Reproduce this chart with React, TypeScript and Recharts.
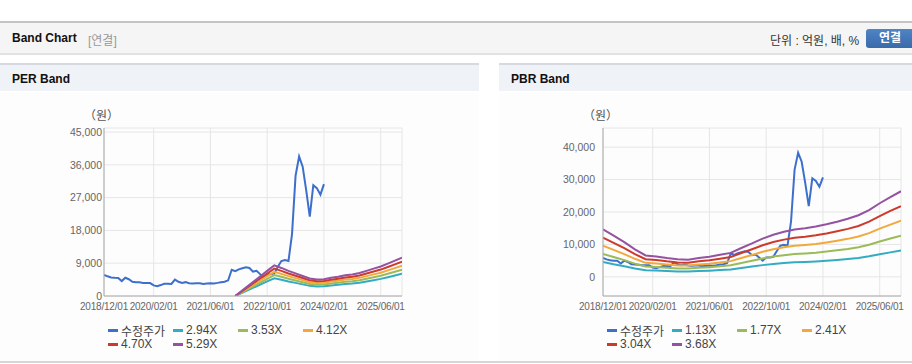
import React from "react";
import { LineChart, Line, XAxis, YAxis, CartesianGrid } from "recharts";

// x = months since 2018/12/01
const tickMonths = [0, 14, 30, 46, 62, 78];
const tickLabels = ["2018/12/01", "2020/02/01", "2021/06/01", "2022/10/01", "2024/02/01", "2025/06/01"];

// 수정주가, monthly from 2018/12
const priceVals = [
  5800, 5400, 5100, 5000, 4950, 4100, 5000, 4600, 3900, 3800,
  3750, 3600, 3600, 3550, 2900, 2700, 3000, 3350, 3350, 3300,
  4500, 3900, 3600, 3800, 3500, 3450, 3500, 3500, 3300, 3400,
  3500, 3450, 3600, 3800, 3900, 4300, 7200, 6800, 7300, 7600,
  7900, 7700, 6700, 6900, 6000, 5000, 6000, 6000, 6200, 8000,
  9600, 9900, 9600, 17000, 33000, 38300, 35500, 29000, 21800, 30400,
  29600, 27800, 30700,
];

// PER bands
const perMonths = [37, 40, 43, 46, 48, 50, 52, 54, 56, 58, 60, 62, 64, 66, 68, 70, 72, 74, 76, 78, 80, 82, 84];
const per294 = [0, 1330, 2670, 4000, 4870, 4470, 4000, 3600, 3190, 2780, 2610, 2670, 2900, 3070, 3310, 3420, 3650, 4000, 4350, 4700, 5160, 5630, 6090];
const per353 = [0, 1580, 3150, 4730, 5750, 5270, 4730, 4250, 3770, 3290, 3080, 3150, 3430, 3630, 3900, 4040, 4320, 4730, 5140, 5550, 6100, 6640, 7190];
const per412 = [0, 1820, 3630, 5450, 6640, 6080, 5450, 4900, 4350, 3790, 3560, 3630, 3950, 4190, 4500, 4660, 4980, 5450, 5930, 6400, 7030, 7660, 8300];
const per470 = [0, 2060, 4120, 6180, 7520, 6890, 6180, 5550, 4920, 4300, 4030, 4120, 4480, 4740, 5100, 5280, 5640, 6180, 6710, 7250, 7970, 8680, 9400];
const per529 = [0, 2300, 4600, 6900, 8400, 7700, 6900, 6200, 5500, 4800, 4500, 4600, 5000, 5300, 5700, 5900, 6300, 6900, 7500, 8100, 8900, 9700, 10500];
const perNames = ["2.94X", "3.53X", "4.12X", "4.70X", "5.29X"];
const perTicks = [0, 9000, 18000, 27000, 36000, 45000];

// PBR bands
const pbrMonths = [0, 3, 6, 9, 12, 15, 18, 21, 24, 27, 30, 33, 36, 39, 42, 45, 48, 51, 54, 57, 60, 63, 66, 69, 72, 75, 78, 81, 84];
const pbr113 = [4600, 3900, 3290, 2610, 2030, 1930, 1780, 1660, 1630, 1780, 1900, 2090, 2270, 2730, 3160, 3620, 3990, 4270, 4480, 4610, 4760, 4970, 5220, 5500, 5830, 6330, 6970, 7550, 8110];
const pbr177 = [7050, 6110, 5150, 4090, 3170, 3030, 2790, 2600, 2550, 2790, 2980, 3270, 3560, 4280, 4950, 5680, 6250, 6690, 7020, 7220, 7460, 7790, 8180, 8610, 9140, 9910, 10920, 11830, 12700];
const pbr241 = [9590, 8320, 7010, 5570, 4320, 4130, 3800, 3540, 3470, 3800, 4060, 4450, 4850, 5830, 6750, 7730, 8520, 9100, 9560, 9820, 10150, 10610, 11130, 11720, 12440, 13490, 14870, 16110, 17290];
const pbr304 = [12100, 10490, 8840, 7020, 5450, 5200, 4790, 4460, 4380, 4790, 5120, 5620, 6110, 7350, 8510, 9750, 10740, 11480, 12060, 12390, 12800, 13380, 14050, 14790, 15700, 17020, 18750, 20320, 21810];
const pbr368 = [14650, 12700, 10700, 8500, 6600, 6300, 5800, 5400, 5300, 5800, 6200, 6800, 7400, 8900, 10300, 11800, 13000, 13900, 14600, 15000, 15500, 16200, 17000, 17900, 19000, 20600, 22700, 24600, 26400];
const pbrNames = ["1.13X", "1.77X", "2.41X", "3.04X", "3.68X"];
const pbrTicks = [0, 10000, 20000, 30000, 40000];

const priceColor = "#3d6fcc";
const bandColors = ["#33abc3", "#9bbb59", "#f2a93b", "#cc3a2e", "#9452a0"];

const xTickFont = { fontSize: 10, letterSpacing: -0.2, fill: "#666", fontFamily: "'Liberation Sans', Arial, sans-serif" };
const yTickFont = { fontSize: 10.5, fill: "#666", fontFamily: "'Liberation Sans', Arial, sans-serif" };
const priceData = priceVals.map((v, i) => ({ m: i, v }));

type BandChartProps = {
  left: number;
  months: number[];
  bands: number[][];
  names: string[];
  domain: [number, number];
  ticks: number[];
  tickMargin: number;
};

function BandPlot({ left, months, bands, names, domain, ticks, tickMargin }: BandChartProps) {
  return (
    <>
      <div style={{ position: "absolute", left: left + 84, top: 106, fontSize: 12, color: "#555", fontFamily: "'Noto Sans CJK KR', sans-serif" }}>
        （원）
      </div>
      <div style={{ position: "absolute", left, top: 110 }}>
        <LineChart width={420} height={220} margin={{ top: 18, right: 18, bottom: 14, left: 0 }}>
          <CartesianGrid stroke="#e6e6e6" strokeWidth={1} />
          <XAxis
            type="number"
            dataKey="m"
            domain={[0, 84]}
            ticks={tickMonths}
            interval={0}
            tickFormatter={(m: number) => tickLabels[tickMonths.indexOf(m)] ?? ""}
            tick={xTickFont}
            tickLine={false}
            tickSize={5}
            axisLine={{ stroke: "#aaa" }}
            height={20}
            allowDataOverflow
          />
          <XAxis xAxisId="top" orientation="top" type="number" domain={[0, 84]} height={0} tick={false} tickLine={false} axisLine={{ stroke: "#bbb" }} />
          <YAxis
            type="number"
            domain={domain}
            ticks={ticks}
            interval={0}
            tickFormatter={(v: number) => v.toLocaleString("en-US")}
            tick={yTickFont}
            tickLine={false}
            tickSize={0}
            tickMargin={tickMargin}
            axisLine={{ stroke: "#aaa" }}
            width={104}
            allowDataOverflow
          />
          <YAxis yAxisId="right" orientation="right" type="number" domain={domain} width={0} tick={false} tickLine={false} axisLine={{ stroke: "#bbb" }} />
          <Line data={priceData} dataKey="v" stroke={priceColor} strokeWidth={2} dot={false} isAnimationActive={false} />
          {bands.map((vals, k) => (
            <Line
              key={names[k]}
              data={months.map((m, i) => ({ m, v: vals[i] }))}
              dataKey="v"
              stroke={bandColors[k]}
              strokeWidth={2}
              dot={false}
              isAnimationActive={false}
            />
          ))}
        </LineChart>
      </div>
      <Legend left={left + 108} names={names} />
    </>
  );
}

function Legend({ left, names }: { left: number; names: string[] }) {
  const items = [{ name: "수정주가", color: priceColor }, ...names.map((n, k) => ({ name: n, color: bandColors[k] }))];
  return (
    <>
      {items.map((it, i) => (
        <div
          key={it.name}
          style={{
            position: "absolute",
            left: left + (i % 4) * 65,
            top: 322 + Math.floor(i / 4) * 14,
            height: 16,
            display: "flex",
            alignItems: "center",
            fontSize: 12,
            color: "#444",
            fontFamily: "'Liberation Sans', Arial, 'Noto Sans CJK KR', sans-serif",
            whiteSpace: "nowrap",
          }}
        >
          <span style={{ display: "inline-block", width: 10, height: 3, background: it.color, marginRight: 3 }} />
          {it.name}
        </div>
      ))}
    </>
  );
}

function PanelTitle({ left, width, text }: { left: number; width: number; text: string }) {
  return (
    <div
      style={{
        position: "absolute",
        left,
        top: 63,
        width,
        height: 28,
        borderTop: "2px solid #d6dae0",
        background: "#eff2f6",
        fontFamily: "'Liberation Sans', Arial, sans-serif",
        fontWeight: "bold",
        fontSize: 12,
        color: "#111",
        lineHeight: "28px",
        paddingLeft: 12,
        boxSizing: "border-box",
      }}
    >
      {text}
    </div>
  );
}

export default function App() {
  const sans = "'Liberation Sans', Arial, 'Noto Sans CJK KR', sans-serif";
  return (
    <div style={{ position: "absolute", left: 0, top: 0, width: 912, height: 364, overflow: "hidden", background: "#fff" }}>
      <div
        style={{
          position: "absolute",
          left: 0,
          top: 21,
          width: 912,
          height: 30,
          borderTop: "2px solid #c4c4c4",
          borderBottom: "2px solid #e2e2e2",
          background: "#f5f5f5",
          fontFamily: sans,
        }}
      >
        <span style={{ position: "absolute", left: 12, top: 8, fontWeight: "bold", fontSize: 12, color: "#111" }}>Band Chart</span>
        <span style={{ position: "absolute", left: 88, top: 8, fontSize: 12, color: "#999" }}>[연결]</span>
        <span style={{ position: "absolute", left: 770, top: 8, fontSize: 12, color: "#333" }}>단위 : 억원, 배, %</span>
        <div
          style={{
            position: "absolute",
            left: 866,
            top: 6,
            width: 52,
            height: 19,
            borderRadius: 3,
            background: "linear-gradient(#4f84c6, #3a6aaa)",
            color: "#fff",
            fontWeight: "bold",
            fontSize: 12,
            lineHeight: "19px",
            paddingLeft: 13,
            boxSizing: "border-box",
          }}
        >
          연결
        </div>
      </div>
      <PanelTitle left={0} width={479} text="PER Band" />
      <PanelTitle left={499} width={413} text="PBR Band" />
      <div style={{ position: "absolute", left: 0, top: 93, width: 479, height: 268, background: "#fdfdfd" }} />
      <div style={{ position: "absolute", left: 499, top: 93, width: 413, height: 268, background: "#fdfdfd" }} />
      <div style={{ position: "absolute", left: 0, top: 361, width: 912, height: 2, background: "#d6d6d6" }} />
      <BandPlot
        left={0}
        months={perMonths}
        bands={[per294, per353, per412, per470, per529]}
        names={perNames}
        domain={[0, 46100]}
        ticks={perTicks}
        tickMargin={2}
      />
      <BandPlot
        left={499}
        months={pbrMonths}
        bands={[pbr113, pbr177, pbr241, pbr304, pbr368]}
        names={pbrNames}
        domain={[-5900, 45900]}
        ticks={pbrTicks}
        tickMargin={8}
      />
    </div>
  );
}
